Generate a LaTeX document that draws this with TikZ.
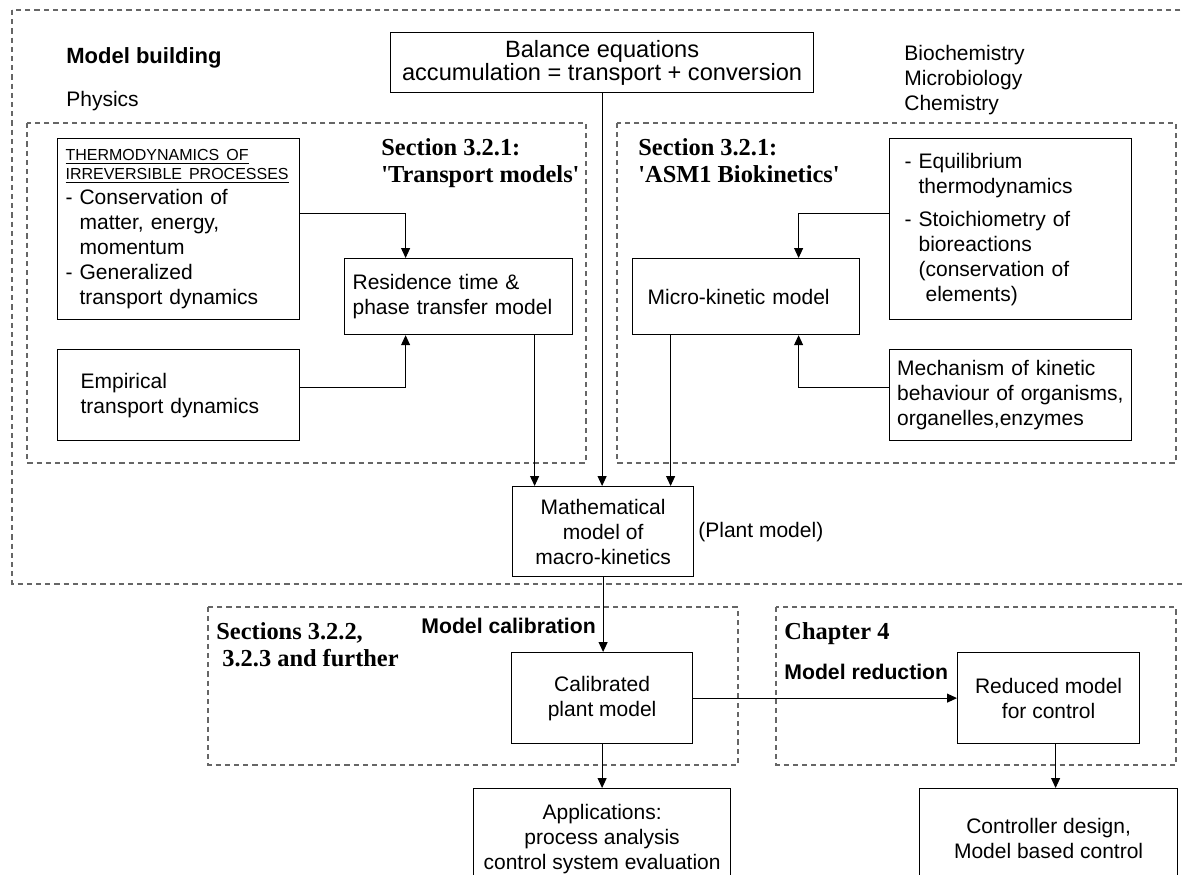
\documentclass[tikz,border=0pt]{standalone}
\usepackage{fontspec}
\setmainfont{Liberation Sans}
\newfontfamily\timesfont{Liberation Serif}
\usetikzlibrary{arrows.meta}

\begin{document}
\begin{tikzpicture}[x=0.5pt,y=-0.5pt,
    box/.style={draw,line width=0.6pt,anchor=north west,inner sep=0pt,
      font=\fontsize{10.5}{12.5}\selectfont},
    dashbox/.style={draw=black!60,line width=0.6pt,dash pattern=on 2.6pt off 2pt},
    arr/.style={-{Triangle[length=5pt,width=4.5pt]},line width=0.5pt},
    lbl/.style={anchor=base west,inner sep=0pt,font=\fontsize{10.5}{12.5}\selectfont},
    sect/.style={anchor=base west,inner sep=0pt,font=\timesfont\bfseries\fontsize{12.2}{13.5}\selectfont},
    head/.style={anchor=base west,inner sep=0pt,font=\bfseries\fontsize{10.6}{13}\selectfont}]
    \useasboundingbox (0,0) rectangle (1183,874);

        %frames
        \draw[dashbox] (12,10) rectangle (1186,584);
        \draw[dashbox] (27,123) rectangle (586,463);
        \draw[dashbox] (617,123) rectangle (1176,463);
        \draw[dashbox] (208,607) rectangle (738,765);
        \draw[dashbox] (776,607) rectangle (1176,765);

        %labels
        \node[head,font=\bfseries\fontsize{11}{13}\selectfont] (mbuild) at (66,63) {Model building};
        \node[lbl] (physics) at (66,106) {Physics};
        \node[lbl] (biochem) at (904,60) {Biochemistry};
        \node[lbl] (microbio) at (904,85) {Microbiology};
        \node[lbl] (chem) at (904,110) {Chemistry};
        \node[sect] (trsecA) at (381,155) {Section 3.2.1:};
        \node[sect] (trsecB) at (381,182) {\textquotesingle Transport models\textquotesingle};
        \node[sect] (asmsecA) at (638,155) {Section 3.2.1:};
        \node[sect] (asmsecB) at (638,182) {\textquotesingle ASM1 Biokinetics\textquotesingle};
        \node[lbl] (plant) at (698,537) {(Plant model)};
        \node[head] (callbl) at (421,633) {Model calibration};
        \node[sect] (calsecA) at (216,639) {Sections 3.2.2,};
        \node[sect] (calsecB) at (222,666) {3.2.3 and further};
        \node[sect] (chap) at (784,639) {Chapter 4};
        \node[head] (redlbl) at (784,679) {Model reduction};

        %balance
        \node[box,minimum width=211.5pt,minimum height=30pt,align=center,
          font=\fontsize{11.8}{11.5}\selectfont] (balance) at (390,32)
          {Balance equations\\accumulation = transport + conversion};

        %transport models
        \node[box,minimum width=121pt,minimum height=90.5pt,text width=113pt,align=left] (thermo) at (57,138)
          {{\fontsize{8}{9.5}\selectfont\underline{THERMODYNAMICS OF}\\\underline{IRREVERSIBLE PROCESSES}\\}
          - Conservation of\\ \phantom{- }matter, energy,\\ \phantom{- }momentum\\
          - Generalized\\ \phantom{- }transport dynamics};
        \node[box,minimum width=121pt,minimum height=45.5pt,text width=98pt,align=left] (empir) at (57,349)
          {Empirical\\transport dynamics};
        \node[box,minimum width=114pt,minimum height=38pt,text width=106pt,align=left] (resid) at (344,258)
          {Residence time \&\\phase transfer model};

        %biokinetics
        \node[box,minimum width=121pt,minimum height=90.5pt,text width=106pt,align=left] (equil) at (889,138)
          {- Equilibrium\\ \phantom{- }thermodynamics\\[4pt]
          - Stoichiometry of\\ \phantom{- }bioreactions\\ \phantom{- }(conservation of\\ \phantom{- }\ elements)\\[3pt]};
        \node[box,minimum width=121pt,minimum height=45.5pt,text width=113.5pt,align=left] (mech) at (889,349)
          {Mechanism of kinetic\\behaviour of organisms,\\organelles,enzymes};
        \node[box,minimum width=113.5pt,minimum height=38pt,text width=98.5pt,align=left] (micro) at (632,258)
          {Micro-kinetic model};

        %plant model and further
        \node[box,minimum width=90.5pt,minimum height=45pt,align=center] (math) at (512,486)
          {Mathematical\\model of\\macro-kinetics};
        \node[box,minimum width=90.5pt,minimum height=45.5pt,align=center] (calib) at (511,652)
          {Calibrated\\plant model};
        \node[box,minimum width=128.5pt,minimum height=50pt,align=center] (apps) at (473,788)
          {Applications:\\process analysis\\control system evaluation};
        \node[box,minimum width=91pt,minimum height=45.5pt,align=center] (reduced) at (957,652)
          {Reduced model\\for control};
        \node[box,minimum width=129pt,minimum height=50pt,align=center] (ctrl) at (919,788)
          {Controller design,\\Model based control};

        %connectors
        \draw[arr] ([yshift=7.75pt]thermo.east) -| ([xshift=-26.5pt]resid.north);
        \draw[arr] ([yshift=3.75pt]empir.east) -| ([xshift=-26.5pt]resid.south);
        \draw[arr] ([yshift=7.75pt]equil.west) -| ([xshift=26.25pt]micro.north);
        \draw[arr] ([yshift=3.75pt]mech.west) -| ([xshift=26.25pt]micro.south);
        \draw[arr] (balance.south) -- (balance.south |- math.north);
        \draw[arr] ([xshift=38pt]resid.south) -- ([xshift=38pt]resid.south |- math.north);
        \draw[arr] ([xshift=-37.75pt]micro.south) -- ([xshift=-37.75pt]micro.south |- math.north);
        \draw[arr] (math.south) -- (math.south |- calib.north);
        \draw[arr] (calib.south) -- (calib.south |- apps.north);
        \draw[arr] (calib.east) -- (calib.east -| reduced.west);
        \draw[arr] ([xshift=3.5pt]reduced.south) -- ([xshift=3.5pt]reduced.south |- ctrl.north);

\end{tikzpicture}
\end{document}
